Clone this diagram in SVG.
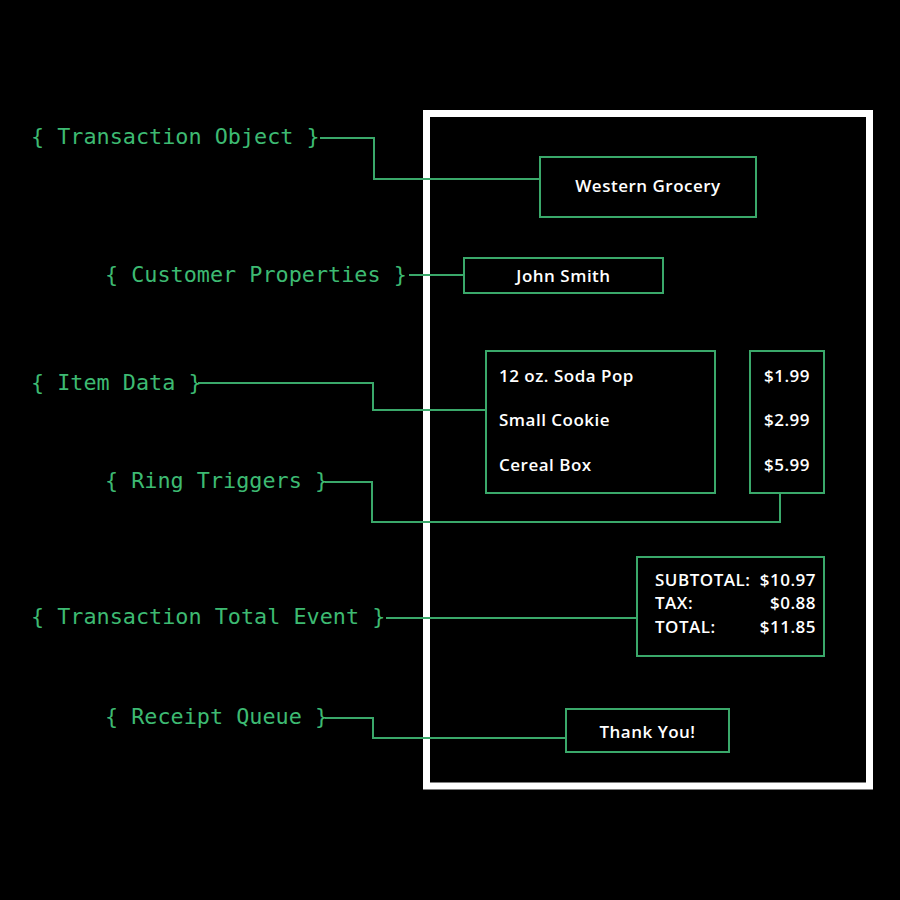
<svg xmlns="http://www.w3.org/2000/svg" width="900" height="900" viewBox="0 0 900 900">
<style>
.lbl{font-family:"DejaVu Sans Mono","Liberation Mono",monospace;font-size:21.8px;fill:#3dba72}
.box{fill:#000;stroke:#3aa86a;stroke-width:2}
.t{font-family:"Open Sans","Noto Sans",sans-serif;font-weight:600;font-size:17px;letter-spacing:0.5px;fill:#fff}
.c{text-anchor:middle}
.r{text-anchor:end}
.conn{fill:none;stroke:#3aa86a;stroke-width:2}
</style>
<rect x="0" y="0" width="900" height="900" fill="#000"/>
<rect id="receipt" x="426.5" y="113.5" width="443" height="672.5" fill="#000" stroke="#fff" stroke-width="7"/>
<g id="connectors">
<path class="conn" d="M320,138 H374 V179 H540"/>
<path class="conn" d="M409,275 H464"/>
<path class="conn" d="M198,383 H373 V410 H486"/>
<path class="conn" d="M325,482 H372 V522 H780 V493"/>
<path class="conn" d="M386,618 H637"/>
<path class="conn" d="M325,718 H373 V738 H566"/>
</g>
<g id="label-transaction-object"><text class="lbl" x="31" y="144">{ Transaction Object }</text></g>
<g id="label-customer-properties"><text class="lbl" x="105" y="282">{ Customer Properties }</text></g>
<g id="label-item-data"><text class="lbl" x="31" y="390">{ Item Data }</text></g>
<g id="label-ring-triggers"><text class="lbl" x="105" y="488">{ Ring Triggers }</text></g>
<g id="label-transaction-total"><text class="lbl" x="31" y="624">{ Transaction Total Event }</text></g>
<g id="label-receipt-queue"><text class="lbl" x="105" y="724">{ Receipt Queue }</text></g>
<g id="store"><rect class="box" x="540" y="157" width="216" height="60"/><text class="t c" x="648" y="192">Western Grocery</text></g>
<g id="customer"><rect class="box" x="464" y="258" width="199" height="35"/><text class="t c" x="563.5" y="282">John Smith</text></g>
<g id="items"><rect class="box" x="486" y="351" width="229" height="142"/>
<text class="t" x="499" y="382">12 oz. Soda Pop</text>
<text class="t" x="499" y="426">Small Cookie</text>
<text class="t" x="499" y="471">Cereal Box</text></g>
<g id="prices"><rect class="box" x="750" y="351" width="74" height="142"/>
<text class="t c" x="787" y="382">$1.99</text>
<text class="t c" x="787" y="426">$2.99</text>
<text class="t c" x="787" y="471">$5.99</text></g>
<g id="totals"><rect class="box" x="637" y="557" width="187" height="99"/>
<text class="t" x="655" y="586">SUBTOTAL:</text><text class="t r" x="816" y="586">$10.97</text>
<text class="t" x="655" y="609">TAX:</text><text class="t r" x="816" y="609">$0.88</text>
<text class="t" x="655" y="633">TOTAL:</text><text class="t r" x="816" y="633">$11.85</text></g>
<g id="thanks"><rect class="box" x="566" y="709" width="163" height="43"/><text class="t c" x="647.5" y="738">Thank You!</text></g>
</svg>
